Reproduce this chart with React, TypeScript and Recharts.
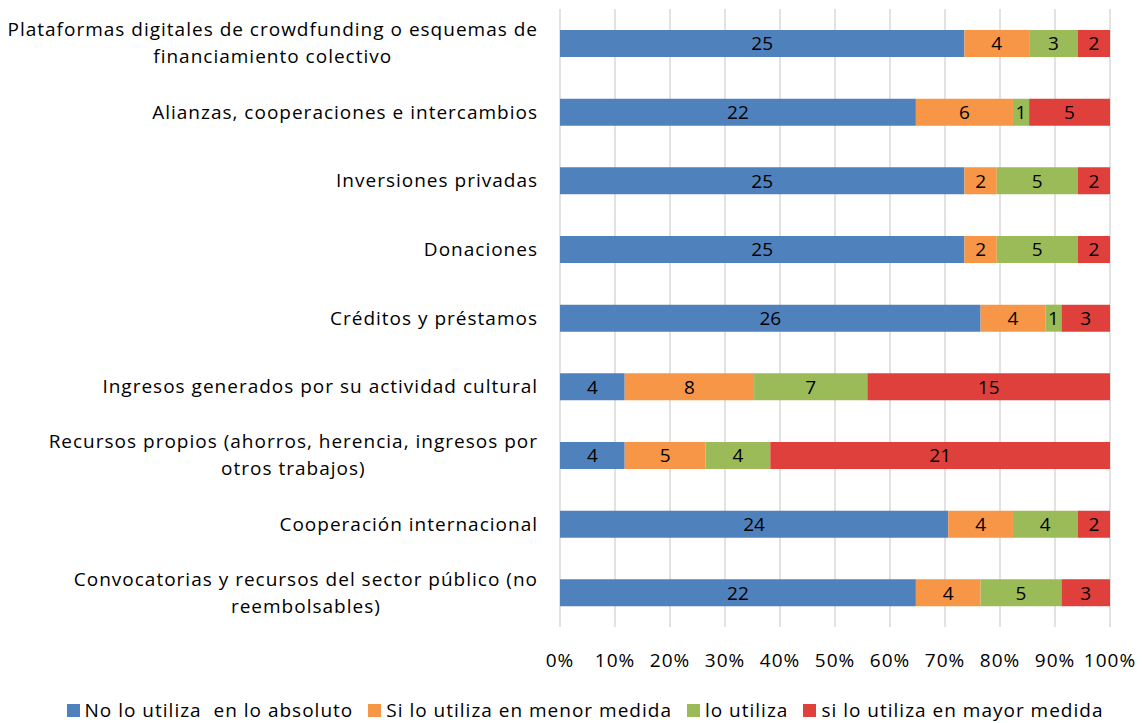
import { BarChart, Bar, XAxis, YAxis, CartesianGrid, Legend, LabelList } from 'recharts';

// categorías (de arriba hacia abajo) y valores de cada serie
const categories = [
  'Plataformas digitales de crowdfunding o esquemas de\nfinanciamiento colectivo',
  'Alianzas, cooperaciones e intercambios',
  'Inversiones privadas',
  'Donaciones',
  'Créditos y préstamos',
  'Ingresos generados por su actividad cultural',
  'Recursos propios (ahorros, herencia, ingresos por\notros trabajos)',
  'Cooperación internacional',
  'Convocatorias y recursos del sector público (no\nreembolsables)',
];
const noUtiliza = [25, 22, 25, 25, 26, 4, 4, 24, 22];
const menorMedida = [4, 6, 2, 2, 4, 8, 5, 4, 4];
const utiliza = [3, 1, 5, 5, 1, 7, 4, 4, 5];
const mayorMedida = [2, 5, 2, 2, 3, 15, 21, 2, 3];
const xTicks = [0, 0.1, 0.2, 0.3, 0.4, 0.5, 0.6, 0.7, 0.8, 0.9, 1];

const series = [
  { key: 'a', label: 'No lo utiliza  en lo absoluto', color: '#4F81BD', values: noUtiliza },
  { key: 'b', label: 'Si lo utiliza en menor medida', color: '#F79646', values: menorMedida },
  { key: 'c', label: 'lo utiliza', color: '#9BBB59', values: utiliza },
  { key: 'd', label: 'si lo utiliza en mayor medida', color: '#DF403C', values: mayorMedida },
];

const data = categories.map((name, i) => {
  const row: any = { name };
  series.forEach((s) => (row[s.key] = s.values[i]));
  return row;
});

const FONT = '"Open Sans", "Noto Sans", sans-serif';
const FS = 19;
const LS = 1; // espaciado extra para acercarse al ancho de Calibri

let ctx: CanvasRenderingContext2D | null = null;
function measure(t: string) {
  if (!ctx) ctx = document.createElement('canvas').getContext('2d');
  if (!ctx) return t.length * (FS * 0.5 + LS);
  ctx.font = `${FS}px ${FONT}`;
  return ctx.measureText(t).width + t.length * LS;
}

const CategoryTick = ({ x, y, payload }: any) => {
  const lines: string[] = String(payload.value).split('\n');
  const lh = 27;
  const blockW = Math.max(...lines.map(measure));
  const cx = x - blockW / 2;
  const y0 = y - ((lines.length - 1) * lh) / 2;
  return (
    <g>
      {lines.map((l, i) => (
        <text
          key={i}
          x={lines.length > 1 ? cx : x}
          y={y0 + i * lh}
          dy="0.35em"
          textAnchor={lines.length > 1 ? 'middle' : 'end'}
          fill="#000"
          fontSize={FS}
          fontFamily={FONT}
          letterSpacing={LS}
        >
          {l}
        </text>
      ))}
    </g>
  );
};

const LegendContent = () => (
  <div
    style={{
      display: 'flex',
      justifyContent: 'center',
      paddingLeft: 60,
      fontFamily: FONT,
      fontSize: FS,
      letterSpacing: LS,
      color: '#000',
      whiteSpace: 'pre',
      lineHeight: '26px',
    }}
  >
    {series.map((s, i) => (
      <span key={s.key} style={{ display: 'inline-flex', alignItems: 'center', marginLeft: i === 0 ? 0 : 15 }}>
        <span style={{ width: 13, height: 13, background: s.color, display: 'inline-block', marginRight: 5 }} />
        {s.label}
      </span>
    ))}
  </div>
);

export default function App() {
  return (
    <div style={{ position: 'absolute', left: 0, top: 0, width: 1142, height: 723, background: '#fff' }}>
      <BarChart
        width={1142}
        height={723}
        data={data}
        layout="vertical"
        stackOffset="expand"
        barSize={27}
        margin={{ top: 9, right: 32, left: 0, bottom: 0 }}
      >
        <CartesianGrid horizontal={false} stroke="#D9D9D9" strokeWidth={1.5} />
        <XAxis
          type="number"
          domain={[0, 1]}
          ticks={xTicks}
          tickFormatter={(v: number) => `${Math.round(v * 100)}%`}
          axisLine={false}
          tickLine={false}
          tickMargin={21}
          height={70}
          tick={{ fill: '#000', fontSize: FS, fontFamily: FONT, letterSpacing: LS }}
          interval={0}
        />
        <YAxis
          type="category"
          dataKey="name"
          width={560}
          axisLine={false}
          tickLine={false}
          tickMargin={16}
          tick={<CategoryTick />}
          interval={0}
        />
        <Legend verticalAlign="bottom" content={<LegendContent />} />
        {series.map((s) => (
          <Bar key={s.key} dataKey={s.key} name={s.label} stackId="1" fill={s.color} isAnimationActive={false}>
            <LabelList dataKey={s.key} position="center" fill="#000" fontSize={FS} fontFamily={FONT} />
          </Bar>
        ))}
      </BarChart>
    </div>
  );
}
